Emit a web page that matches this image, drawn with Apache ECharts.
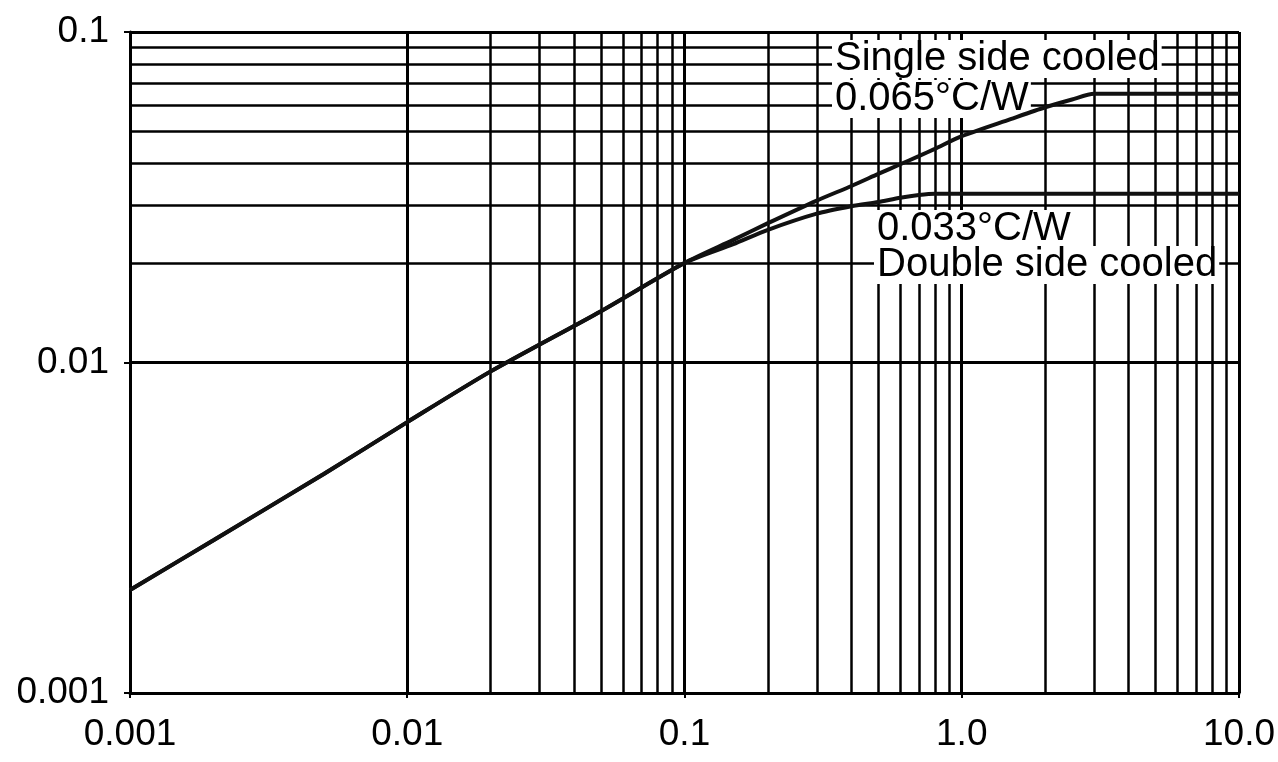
<!DOCTYPE html>
<html>
<head>
<meta charset="utf-8">
<script src="https://cdn.jsdelivr.net/npm/echarts@6/dist/echarts.min.js"></script>
<style>html,body{margin:0;padding:0;background:#fff}#c{width:1278px;height:762px}</style>
</head>
<body>
<div id="c"></div>
<script>
// Data (log-log)
const commonX = [0.001, 0.002, 0.005, 0.01, 0.02, 0.05, 0.1];
const commonY = [0.00205, 0.0029, 0.0046, 0.0066, 0.0094, 0.0143, 0.020];
const singleX = [0.15, 0.2, 0.3, 0.4, 0.5, 0.6, 0.7, 0.8, 1.0, 1.5, 2.0, 2.5, 3.0, 10.0];
const singleY = [0.0235, 0.0264, 0.0309, 0.0342, 0.0372, 0.0398, 0.0421, 0.0443, 0.0484, 0.0545, 0.0592, 0.0625, 0.065, 0.065];
const doubleX = [0.15, 0.2, 0.3, 0.4, 0.5, 0.6, 0.7, 0.8, 10.0];
const doubleY = [0.0228, 0.0252, 0.0282, 0.0297, 0.0306, 0.0315, 0.0321, 0.0324, 0.0324];
const xTickLabels = ['0.001', '0.01', '0.1', '1.0', '10.0'];
const yTickLabels = ['0.001', '0.01', '0.1'];
const xMinorGrid = [];
for (const d of [0.001, 0.01, 0.1, 1]) for (let k = 2; k <= 9; k++) xMinorGrid.push(+(k * d).toPrecision(3));
const yMinorGrid = [];
for (const d of [0.001, 0.01]) for (let k = 2; k <= 9; k++) yMinorGrid.push(+(k * d).toPrecision(3));
const annotations = ['Single side cooled', '0.065°C/W', '0.033°C/W', 'Double side cooled'];

const pair = (xs, ys) => xs.map((x, i) => [x, ys[i]]);
const singleData = pair(commonX, commonY).concat(pair(singleX, singleY));
const doubleData = pair(commonX, commonY).concat(pair(doubleX, doubleY));

const fmt = (labels, minExp) => v => {
  const e = Math.round(Math.log10(v));
  return labels[e - minExp] || '';
};
const font = 'Liberation Sans, Arial, sans-serif';
const gridLine = {type: 'solid', color: '#000', width: 2.5};
const txt = (text, left, top) => ({
  type: 'text', left, top, z: 100,
  style: {text, font: '40px ' + font, fill: '#000', backgroundColor: '#fff', padding: [0, 2, 0, 3], lineHeight: 38}
});

const chart = echarts.init(document.getElementById('c'), null, {renderer: 'canvas'});
chart.setOption({
  animation: false,
  backgroundColor: '#fff',
  grid: {left: 130, right: 38, top: 32, bottom: 69, containLabel: false},
  xAxis: {
    type: 'log', logBase: 10, min: 0.001, max: 10,
    axisLine: {lineStyle: {color: '#000', width: 3}},
    axisTick: {show: true, length: 5, lineStyle: {color: '#000', width: 2}},
    axisLabel: {color: '#000', fontSize: 37, fontFamily: font, margin: 23, formatter: fmt(xTickLabels, -3)},
    splitLine: {show: true, lineStyle: {color: '#000', width: 3}}
  },
  yAxis: {
    type: 'log', logBase: 10, min: 0.001, max: 0.1,
    axisLine: {lineStyle: {color: '#000', width: 3}},
    axisTick: {show: true, length: 6, lineStyle: {color: '#000', width: 2}},
    axisLabel: {color: '#000', fontSize: 37, fontFamily: font, margin: 21, formatter: fmt(yTickLabels, -3)},
    splitLine: {show: true, lineStyle: {color: '#000', width: 3}}
  },
  series: [
    {
      type: 'line', data: [], silent: true, z: 1,
      markLine: {
        silent: true, symbol: ['none', 'none'], label: {show: false},
        lineStyle: gridLine, animation: false,
        data: xMinorGrid.map(v => ({xAxis: v})).concat(yMinorGrid.map(v => ({yAxis: v})))
      }
    },
    {
      name: 'Single', type: 'line', data: singleData, smooth: 0.25, symbol: 'none', zlevel: 1, z: 5,
      lineStyle: {color: '#111', width: 4}
    },
    {
      name: 'Double', type: 'line', data: doubleData, smooth: 0.25, symbol: 'none', zlevel: 1, z: 5,
      lineStyle: {color: '#111', width: 4}
    }
  ],
  graphic: [
    txt(annotations[0], 832, 39),
    txt(annotations[1], 832, 79),
    txt(annotations[2], 874, 209),
    txt(annotations[3], 874, 245)
  ]
});
</script>
</body>
</html>
